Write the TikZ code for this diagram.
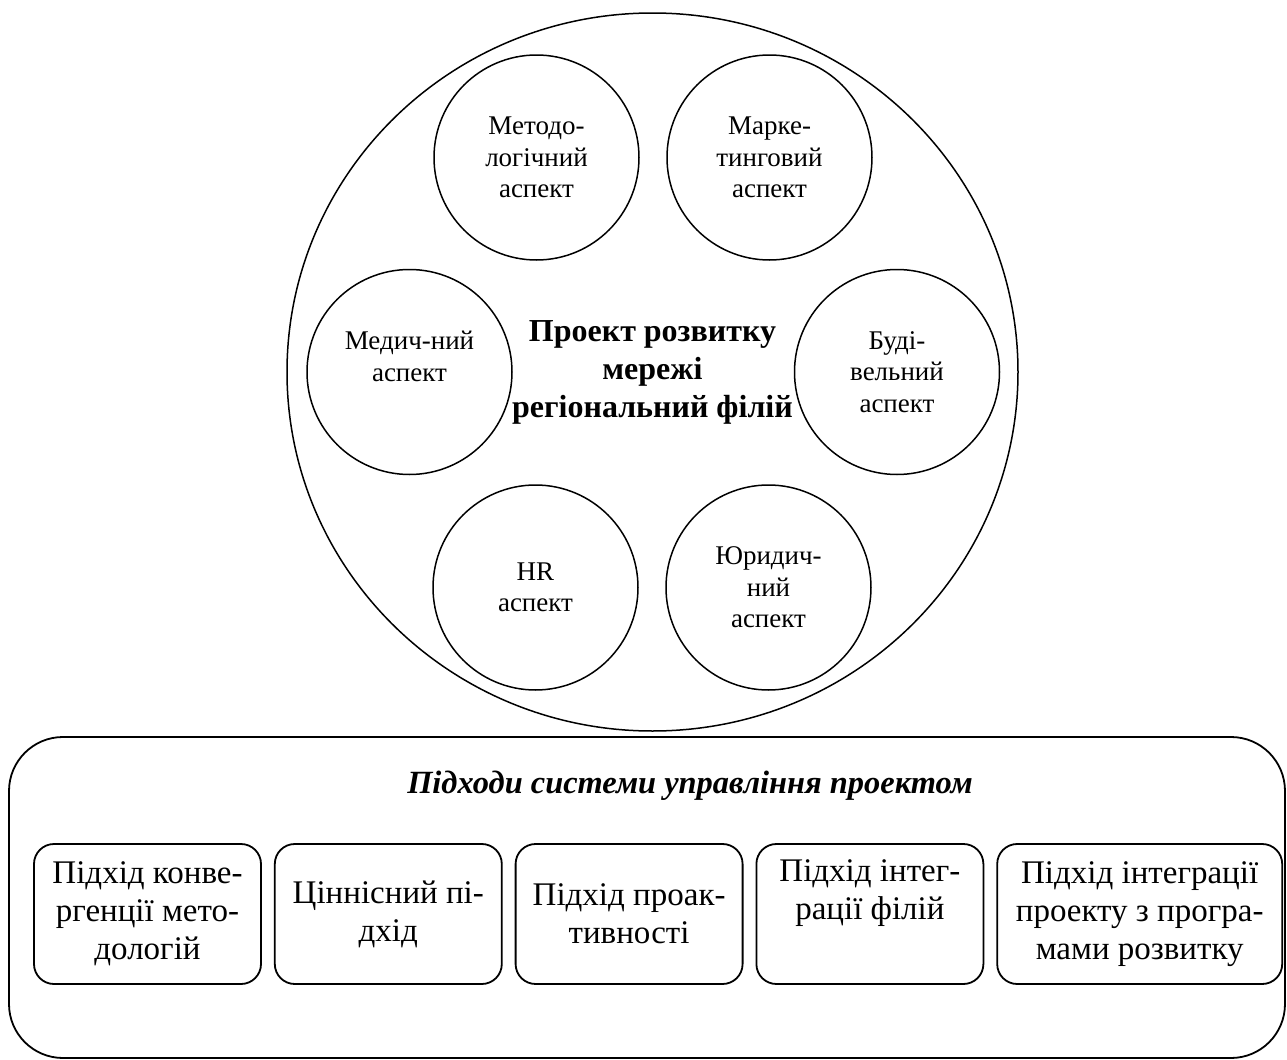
\documentclass[tikz,border=0pt]{standalone}
\usepackage{fontspec}
\setmainfont{Liberation Serif}
\usetikzlibrary{shapes.geometric,positioning}
\tikzset{
    project/.style = {ellipse,
                    draw=black,
                    text=black,
                    line width=0.75pt,
                    inner sep=0pt,
                    minimum width=365.5pt,
                    minimum height=359pt,
                    align=center,
                    font=\fontsize{16}{19}\selectfont\bfseries},
    aspect/.style = {circle,
                    fill=white,
                    draw=black,
                    text=black,
                    line width=0.75pt,
                    inner sep=0pt,
                    minimum size=102.5pt,
                    align=center,
                    font=\fontsize{13.5}{15.75}\selectfont},
    outer/.style =  {rectangle,
                    rounded corners=27pt,
                    draw=black,
                    line width=0.9pt,
                    minimum width=638pt,
                    minimum height=160.5pt},
    heading/.style = {text=black,
                    inner sep=0pt,
                    font=\fontsize{16.2}{19}\selectfont\bfseries\itshape},
    approach/.style = {rectangle,
                    rounded corners=10pt,
                    fill=white,
                    draw=black,
                    text=black,
                    line width=0.9pt,
                    inner sep=2pt,
                    minimum width=113.5pt,
                    minimum height=70pt,
                    align=center,
                    font=\fontsize{16.5}{19}\selectfont},
    node distance=6pt}

\begin{document}
\begin{tikzpicture}[x=0.5pt,y=-0.5pt]
    \useasboundingbox (0,0) rectangle (1287,1060);
    % project and its aspects
    \node[project]  (proj) at (652.5,372)   {Проект розвитку\\мережі\\регіональний філій};
    \node[aspect]   (meth) at (536.5,157.5) {Методо-\\логічний\\аспект};
    \node[aspect]   (mark) at (769.5,157.5) {Марке-\\тинговий\\аспект};
    \node[aspect]   (med)  at (409.5,372)   {Медич-ний\\аспект\\\mbox{}};
    \node[aspect]   (bud)  at (897,372)     {Буді-\\вельний\\аспект};
    \node[aspect]   (hr)   at (535.5,587.5) {HR\\аспект};
    \node[aspect]   (law)  at (768.5,587.5) {Юридич-\\ний\\аспект};
    % approaches
    \node[outer]    (appr) at (647,897.5)   {};
    \node[heading]  (head) at (690,786)     {Підходи системи управління проектом};
    \node[approach] (a1)   at (147.5,914)   {Підхід конве-\\ргенції мето-\\дологій};
    \node[approach] (a2)   [right=of a1]    {Ціннісний пі-\\дхід};
    \node[approach] (a3)   [right=of a2]    {Підхід проак-\\тивності};
    \node[approach] (a4)   [right=of a3]    {Підхід інтег-\\рації філій\\\strut};
    \node[approach, minimum width=142.5pt] (a5) [right=of a4] {Підхід інтеграції\\проекту з програ-\\мами розвитку};
\end{tikzpicture}
\end{document}
